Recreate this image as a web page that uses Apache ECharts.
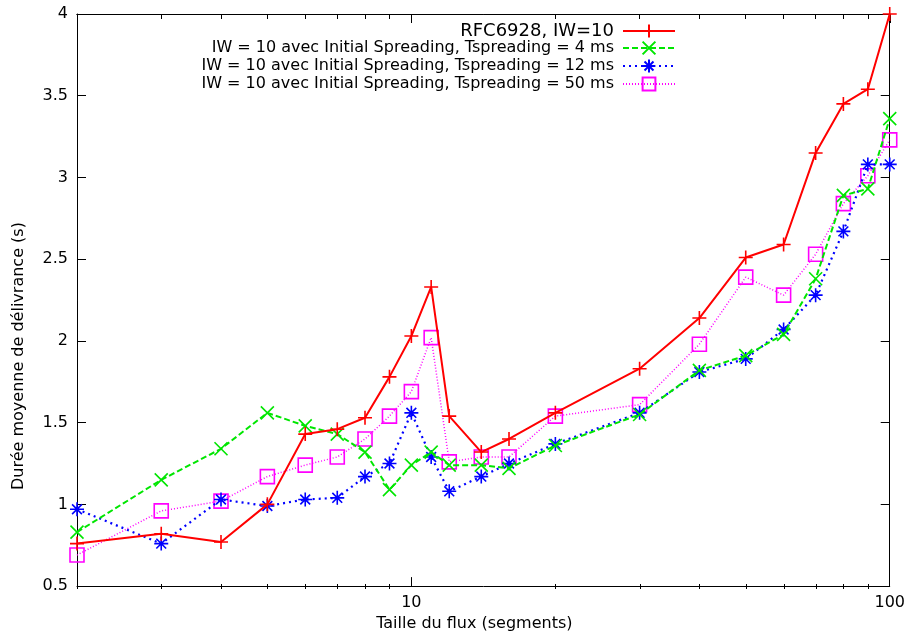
<!DOCTYPE html>
<html>
<head>
<meta charset="utf-8">
<script src="https://cdn.jsdelivr.net/npm/echarts@6/dist/echarts.min.js"></script>
<style>html,body{margin:0;padding:0;background:#fff}#c{width:908px;height:637px}</style>
</head>
<body>
<div id="c"></div>
<script>
// Flow sizes (segments)
const flowSizes = [2,3,4,5,6,7,8,9,10,11,12,14,16,20,30,40,50,60,70,80,90,100];
// Mean delivery time (s)
const rfc6928 = [0.76,0.82,0.77,1.00,1.43,1.46,1.53,1.78,2.03,2.33,1.54,1.32,1.40,1.56,1.83,2.14,2.51,2.59,3.15,3.45,3.54,4.00];
const spread4  = [0.83,1.15,1.34,1.56,1.48,1.43,1.32,1.09,1.24,1.32,1.24,1.24,1.22,1.36,1.55,1.82,1.91,2.04,2.38,2.89,2.93,3.36];
const spread12 = [0.97,0.76,1.03,0.99,1.03,1.04,1.17,1.25,1.56,1.29,1.08,1.17,1.25,1.37,1.56,1.81,1.89,2.07,2.28,2.67,3.08,3.08];
const spread50 = [0.69,0.96,1.02,1.17,1.24,1.29,1.40,1.54,1.69,2.02,1.26,1.29,1.29,1.54,1.61,1.98,2.39,2.28,2.53,2.84,3.01,3.23];
const seriesNames = [
  'RFC6928, IW=10',
  'IW = 10 avec Initial Spreading, Tspreading = 4 ms',
  'IW = 10 avec Initial Spreading, Tspreading = 12 ms',
  'IW = 10 avec Initial Spreading, Tspreading = 50 ms'
];
const xMajorTicks = [10, 100];
const xMinorTicks = [2,3,4,5,6,7,8,9,20,30,40,50,60,70,80,90];

const FONT = 'DejaVu Sans';
const colors = ['#ff0000', '#00e600', '#0000ff', '#ff00ff'];
const symbols = [
  'path://M0,5L10,5M5,0L5,10',
  'path://M0,0L10,10M0,10L10,0',
  'path://M0,5L10,5M5,0L5,10M1.5,1.5L8.5,8.5M1.5,8.5L8.5,1.5',
  'path://M0,0L10,0L10,10L0,10Z'
];
const lineTypes = ['solid', [6,3], [2,4], [1,2]];
const lineWidths = [2, 2, 2.2, 1.5];
const symbolSizes = [14, 13, 14, 14];
const allData = [rfc6928, spread4, spread12, spread50];

const chart = echarts.init(document.getElementById('c'), null, {renderer: 'canvas'});

const gridBox = {left: 77, right: 18, top: 14, bottom: 48, containLabel: false};

function xAxisDef(grid, pos, ticks, len, showLine, showLabel, withName) {
  const a = {
    type: 'log', logBase: 10, min: 2, max: 100, position: pos, gridIndex: grid,
    axisLine: {show: showLine, onZero: false, lineStyle: {color: '#000', width: 1}},
    axisTick: {show: true, inside: true, length: len, customValues: ticks, lineStyle: {color: '#000', width: 1}},
    axisLabel: {show: showLabel, customValues: ticks, margin: 9, color: '#000', fontFamily: FONT, fontSize: 16,
      formatter: v => String(Math.round(v))},
    splitLine: {show: false}, minorTick: {show: false}, minorSplitLine: {show: false}
  };
  if (withName) {
    a.name = 'Taille du flux (segments)';
    a.nameLocation = 'middle';
    a.nameGap = 27;
    a.nameTextStyle = {color: '#000', fontFamily: FONT, fontSize: 16, padding: [0, 18, 0, 0]};
  }
  return a;
}

const legends = seriesNames.map((n, i) => ({
  data: [{name: n}],
  right: 232,
  top: [22, 40, 58, 76][i],
  orient: 'vertical',
  align: 'right',
  padding: 0,
  itemWidth: 52,
  itemHeight: 16,
  selectedMode: false,
  textStyle: {color: '#000', fontFamily: FONT, fontSize: i === 0 ? 18 : 16, lineHeight: 16, padding: [0, 4, 0, 0]}
}));

const option = {
  animation: false,
  backgroundColor: '#fff',
  grid: [Object.assign({}, gridBox), Object.assign({}, gridBox)],
  legend: legends,
  xAxis: [
    xAxisDef(0, 'bottom', xMajorTicks, 9, true, true, true),
    xAxisDef(0, 'top', xMinorTicks, 5, true, false, false),
    xAxisDef(1, 'top', xMajorTicks, 9, true, false, false),
    xAxisDef(1, 'bottom', xMinorTicks, 5, false, false, false)
  ],
  yAxis: [
    {type: 'value', gridIndex: 0, min: 0.5, max: 4, interval: 0.5, position: 'left',
     name: 'Durée moyenne de délivrance (s)', nameLocation: 'middle', nameGap: 50,
     nameTextStyle: {color: '#000', fontFamily: FONT, fontSize: 16, padding: [0, 112, 0, 0]},
     axisLine: {show: true, lineStyle: {color: '#000', width: 1}},
     axisTick: {show: true, inside: true, length: 9, lineStyle: {color: '#000'}},
     axisLabel: {color: '#000', fontFamily: FONT, fontSize: 16, margin: 9, formatter: v => String(v)},
     splitLine: {show: false}},
    {type: 'value', gridIndex: 0, min: 0.5, max: 4, interval: 0.5, position: 'right',
     axisLine: {show: true, lineStyle: {color: '#000', width: 1}},
     axisTick: {show: true, inside: true, length: 9, lineStyle: {color: '#000'}},
     axisLabel: {show: false}, splitLine: {show: false}},
    {type: 'value', gridIndex: 1, min: 0.5, max: 4, interval: 0.5, position: 'left',
     axisLine: {show: false}, axisTick: {show: false}, axisLabel: {show: false}, splitLine: {show: false}}
  ],
  series: allData.map((d, i) => ({
    name: seriesNames[i],
    type: 'line',
    xAxisIndex: 0, yAxisIndex: 0,
    data: flowSizes.map((x, k) => [x, d[k]]),
    symbol: symbols[i],
    symbolSize: symbolSizes[i],
    showAllSymbol: true,
    clip: true,
    color: colors[i],
    lineStyle: {color: colors[i], width: lineWidths[i], type: lineTypes[i]},
    itemStyle: {color: i === 3 ? 'rgba(0,0,0,0)' : colors[i], borderColor: colors[i], borderWidth: 1.6},
    emphasis: {disabled: true},
    z: 10 - i
  }))
};
chart.setOption(option);
</script>
</body>
</html>
